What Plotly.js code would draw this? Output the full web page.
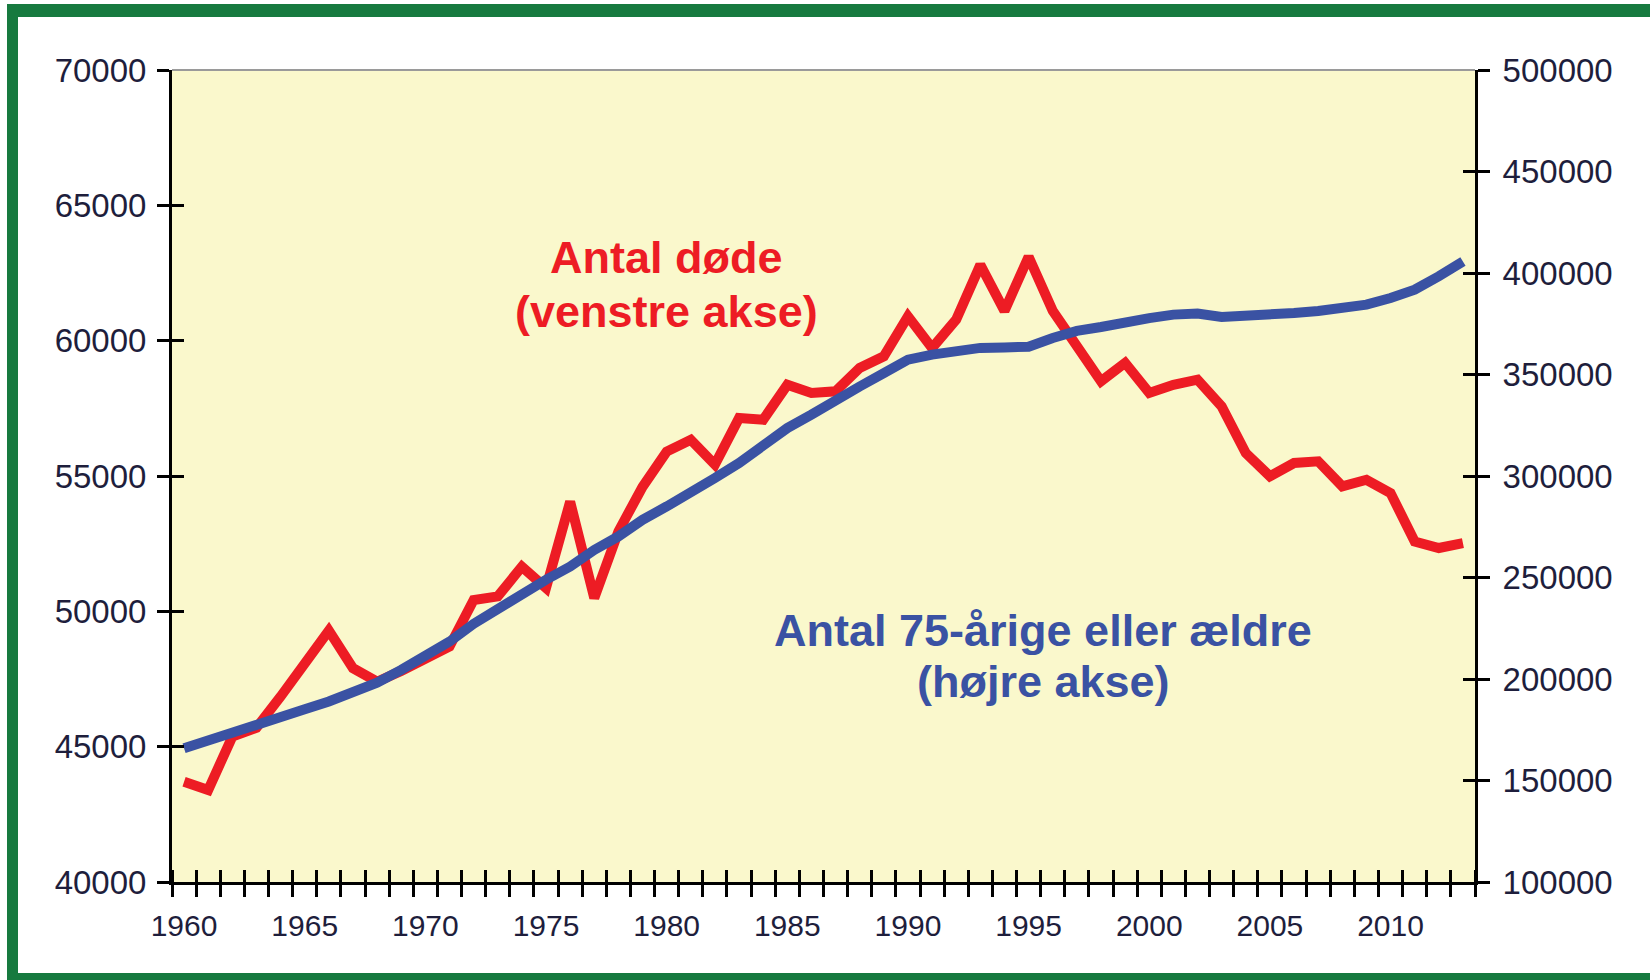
<!DOCTYPE html>
<html>
<head>
<meta charset="utf-8">
<script src="https://cdn.plot.ly/plotly-3.0.1.min.js"></script>
<style>
  html, body { margin: 0; padding: 0; background: #fff; overflow: hidden; }
  #graf { position: absolute; left: 0; top: 0; width: 1650px; height: 980px; }
  #ramme {
    position: absolute; left: 7px; top: 4px; width: 1700px; height: 956px;
    border-left: 11px solid #177a3f; border-top: 13px solid #177a3f;
    border-bottom: 13px solid #177a3f; pointer-events: none;
  }
</style>
</head>
<body>
<div id="graf"></div>
<div id="ramme"></div>
<script>
const aar = [
  1960, 1961, 1962, 1963, 1964, 1965, 1966, 1967, 1968, 1969,
  1970, 1971, 1972, 1973, 1974, 1975, 1976, 1977, 1978, 1979,
  1980, 1981, 1982, 1983, 1984, 1985, 1986, 1987, 1988, 1989,
  1990, 1991, 1992, 1993, 1994, 1995, 1996, 1997, 1998, 1999,
  2000, 2001, 2002, 2003, 2004, 2005, 2006, 2007, 2008, 2009,
  2010, 2011, 2012, 2013
];

// Antal døde (venstre akse)
const doede = [
  43700, 43400, 45370, 45700, 46850, 48030, 49290, 47900, 47400, 47800,
  48200, 48700, 50420, 50550, 51650, 50860, 54050, 50490, 52950, 54600,
  55900, 56340, 55420, 57140, 57080, 58370, 58070, 58130, 58990, 59420,
  60900, 59730, 60780, 62800, 61100, 63100, 61100, 59800, 58500, 59180,
  58070, 58370, 58560, 57570, 55850, 54990, 55480, 55540, 54620, 54860,
  54370, 52580, 52340, 52520
];

// Antal 75-årige eller ældre (højre akse)
const aeldre = [
  165900, 170000, 174100, 177900, 181500, 185100, 188900, 193000, 198200, 204500,
  210800, 218400, 227200, 234900, 242000, 248900, 255400, 263600, 270200, 278400,
  285000, 291600, 299000, 306400, 314600, 323600, 330200, 337600, 344100, 350700,
  357300, 359800, 361900, 363100, 363300, 363700, 368000, 371500, 373400, 376200,
  377800, 379500, 380000, 378300, 378600, 379500, 380300, 381300, 382300, 384400,
  387700, 391800, 398400, 405700
];

const tekster = [
  { tekst: 'Antal døde', x: 1980, y: 63069, farve: '#ed1c24' },
  { tekst: '(venstre akse)', x: 1980, y: 61073, farve: '#ed1c24' },
  { tekst: 'Antal 75-årige eller ældre', x: 1995.6, y: 49290, farve: '#3a52a3' },
  { tekst: '(højre akse)', x: 1995.6, y: 47394, farve: '#3a52a3' }
];

const FONT = 'Liberation Sans, Arial, sans-serif';
const TEKSTFARVE = '#1e1e3c';
const xOmraade = [1959.5, 2013.5];

function tegn() {
  const roed = {
    x: aar, y: doede, type: 'scatter', mode: 'lines',
    xaxis: 'x', yaxis: 'y',
    line: { color: '#ed1c24', width: 10 }
  };
  const blaa = {
    x: aar, y: aeldre, type: 'scatter', mode: 'lines',
    xaxis: 'x2', yaxis: 'y2',
    line: { color: '#3a52a3', width: 10 }
  };
  // usynlige kopier, så akserne med indvendige tick-streger bliver tegnet
  const roedInde = { x: aar, y: doede, type: 'scatter', mode: 'none', xaxis: 'x', yaxis: 'y3' };
  const blaaInde = { x: aar, y: aeldre, type: 'scatter', mode: 'none', xaxis: 'x', yaxis: 'y4' };

  const minorX = (retning) => ({
    tickmode: 'linear', tick0: 1959.5, dtick: 1,
    ticks: retning, ticklen: 12, tickwidth: 3, tickcolor: '#000', showgrid: false
  });

  const layout = {
    width: 1650, height: 980,
    margin: { l: 172, r: 175, t: 70, b: 98 },
    paper_bgcolor: '#fff',
    plot_bgcolor: '#faf8cc',
    showlegend: false,
    font: { family: FONT, color: TEKSTFARVE },
    xaxis: {
      range: xOmraade, tickmode: 'linear', tick0: 1960, dtick: 5,
      ticks: '', showgrid: false, zeroline: false,
      showline: true, linecolor: '#000', linewidth: 3,
      tickfont: { size: 30, color: TEKSTFARVE }, ticklabelstandoff: 15,
      minor: minorX('outside')
    },
    xaxis2: {
      overlaying: 'x', anchor: 'y', side: 'bottom', range: xOmraade,
      showticklabels: false, ticks: '', showgrid: false, zeroline: false, showline: false,
      tickmode: 'linear', tick0: 1960, dtick: 5,
      minor: minorX('inside')
    },
    yaxis: {
      range: [40000, 70000], tickmode: 'linear', tick0: 40000, dtick: 5000,
      tickformat: 'd', ticks: 'outside', ticklen: 12, tickwidth: 3, tickcolor: '#000',
      showline: true, linecolor: '#000', linewidth: 3, showgrid: false, zeroline: false,
      tickfont: { size: 33, color: TEKSTFARVE }, ticklabelstandoff: 4
    },
    yaxis3: {
      overlaying: 'y', anchor: 'x', side: 'left', range: [40000, 70000],
      tickmode: 'linear', tick0: 40000, dtick: 5000,
      ticks: 'inside', ticklen: 12, tickwidth: 3, tickcolor: '#000',
      showticklabels: false, showline: false, showgrid: false, zeroline: false
    },
    yaxis2: {
      overlaying: 'y', anchor: 'x', side: 'right', range: [100000, 500000],
      tickmode: 'linear', tick0: 100000, dtick: 50000,
      tickformat: 'd', ticks: 'outside', ticklen: 12, tickwidth: 3, tickcolor: '#000',
      showline: true, linecolor: '#000', linewidth: 3, showgrid: false, zeroline: false,
      tickfont: { size: 33, color: TEKSTFARVE }, ticklabelstandoff: 6
    },
    yaxis4: {
      overlaying: 'y', anchor: 'x', side: 'right', range: [100000, 500000],
      tickmode: 'linear', tick0: 100000, dtick: 50000,
      ticks: 'inside', ticklen: 12, tickwidth: 3, tickcolor: '#000',
      showticklabels: false, showline: false, showgrid: false, zeroline: false
    },
    shapes: [
      { type: 'line', xref: 'paper', yref: 'paper', x0: 0, x1: 1, y0: 1, y1: 1,
        line: { color: '#9a9a9a', width: 2 } }
    ],
    annotations: tekster.map(t => ({
      text: t.tekst, x: t.x, y: t.y, xref: 'x', yref: 'y',
      xanchor: 'center', yanchor: 'middle', showarrow: false,
      font: { family: FONT, size: 45, color: t.farve, weight: 'bold' }
    }))
  };

  Plotly.newPlot('graf', [roedInde, blaaInde, roed, blaa], layout, { staticPlot: true, displayModeBar: false });
}

tegn();
</script>
</body>
</html>
